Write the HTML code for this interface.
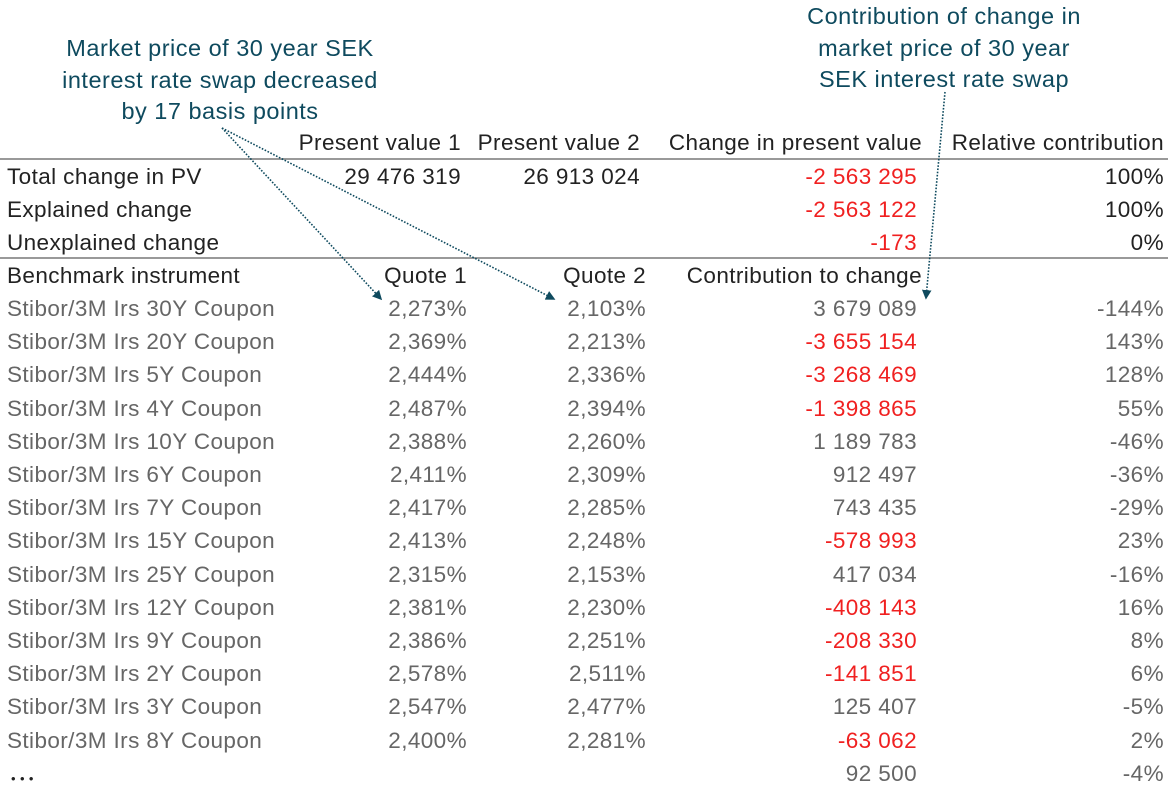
<!DOCTYPE html>
<html><head><meta charset="utf-8"><style>
body{margin:0;width:1172px;height:796px;background:#fff;position:relative;overflow:hidden;font-family:"Liberation Sans",sans-serif;}
.t{position:absolute;font-size:22.5px;letter-spacing:0.4px;line-height:28px;white-space:nowrap;}
.r{text-align:right;}
.hd{color:#222}.gr{color:#666}.red{color:#f02020}
.ann{position:absolute;color:#0e4a5e;font-size:23.5px;letter-spacing:0.5px;line-height:31.5px;text-align:center;white-space:nowrap;}
svg{position:absolute;left:0;top:0}
</style></head><body>
<div class="ann" style="left:20px;top:33px;width:400px">Market price of 30 year SEK<br>interest rate swap decreased<br>by 17 basis points</div>
<div class="ann" style="left:744px;top:1px;width:400px">Contribution of change in<br>market price of 30 year<br>SEK interest rate swap</div>
<svg width="1172" height="796">
<line x1="0" y1="159" x2="1168" y2="159" stroke="#999" stroke-width="2"/>
<line x1="0" y1="258" x2="1168" y2="258" stroke="#999" stroke-width="2"/>
<defs><marker id="ah" markerWidth="6" markerHeight="6" refX="5" refY="3" orient="auto"><path d="M0,0 L6,3 L0,6 z" fill="#0e4a5e"/></marker></defs>
<line x1="222" y1="128" x2="381" y2="299" stroke="#0e4a5e" stroke-width="1.6" stroke-dasharray="1.6 1.6" marker-end="url(#ah)"/>
<line x1="222" y1="128" x2="554" y2="299" stroke="#0e4a5e" stroke-width="1.6" stroke-dasharray="1.6 1.6" marker-end="url(#ah)"/>
<line x1="945" y1="92" x2="926" y2="298" stroke="#0e4a5e" stroke-width="1.6" stroke-dasharray="1.6 1.6" marker-end="url(#ah)"/>
</svg>
<div id="tbl"></div>
<script>
const instruments=["Stibor/3M Irs 30Y Coupon","Stibor/3M Irs 20Y Coupon","Stibor/3M Irs 5Y Coupon","Stibor/3M Irs 4Y Coupon","Stibor/3M Irs 10Y Coupon","Stibor/3M Irs 6Y Coupon","Stibor/3M Irs 7Y Coupon","Stibor/3M Irs 15Y Coupon","Stibor/3M Irs 25Y Coupon","Stibor/3M Irs 12Y Coupon","Stibor/3M Irs 9Y Coupon","Stibor/3M Irs 2Y Coupon","Stibor/3M Irs 3Y Coupon","Stibor/3M Irs 8Y Coupon","\u2022 \u2022 \u2022"];
const quote1=["2,273%","2,369%","2,444%","2,487%","2,388%","2,411%","2,417%","2,413%","2,315%","2,381%","2,386%","2,578%","2,547%","2,400%",""];
const quote2=["2,103%","2,213%","2,336%","2,394%","2,260%","2,309%","2,285%","2,248%","2,153%","2,230%","2,251%","2,511%","2,477%","2,281%",""];
const contrib=[3679089,-3655154,-3268469,-1398865,1189783,912497,743435,-578993,417034,-408143,-208330,-141851,125407,-63062,92500];
const relative=["-144%","143%","128%","55%","-46%","-36%","-29%","23%","-16%","16%","8%","6%","-5%","2%","-4%"];
const sumLabels=["Total change in PV","Explained change","Unexplained change"];
const pv1=["29 476 319","",""];
const pv2=["26 913 024","",""];
const sumChange=[-2563295,-2563122,-173];
const sumRel=["100%","100%","0%"];
function fmt(v){const s=Math.abs(v).toString().replace(/\B(?=(\d{3})+(?!\d))/g," ");return (v<0?"-":"")+s;}
const T=document.getElementById('tbl');
function cell(txt,cls,cx,y,right,name){
 const d=document.createElement('div');
 d.className='t '+cls+(right?' r':'');
 d.textContent=txt;
 d.style.top=(y-13)+'px';
 if(right){d.style.right=(1172-cx)+'px';}else{d.style.left=cx+'px';}
 
 
 T.appendChild(d);
 return d;
}
const ROW=33.2;
cell("Present value 1","hd",461,142,1,"header-pv1");
cell("Present value 2","hd",640,142,1,"header-pv2");
cell("Change in present value","hd",922,142,1,"header-change");
cell("Relative contribution","hd",1164,142,1,"header-relative");
for(let i=0;i<3;i++){
 const y=176+i*ROW;
 cell(sumLabels[i],"hd",7,y,0,"summary-label");
 cell(pv1[i],"hd",461,y,1,"summary-pv1");
 cell(pv2[i],"hd",640,y,1,"summary-pv2");
 cell(fmt(sumChange[i]),sumChange[i]<0?"red":"hd",917,y,1,"summary-change");
 cell(sumRel[i],"hd",1164,y,1,"summary-relative");
}
cell("Benchmark instrument","hd",7,275,0,"header-instrument");
cell("Quote 1","hd",467,275,1,"header-quote1");
cell("Quote 2","hd",646,275,1,"header-quote2");
cell("Contribution to change","hd",922,275,1,"header-contribution");
for(let i=0;i<instruments.length;i++){
 const y=308+i*ROW;
 const last=i==instruments.length-1;
 const c=cell(instruments[i],last?"hd":"gr",last?11:7,y,0,"instrument-name");
 if(last){c.style.fontSize='13px';c.style.top=(y-8)+'px';}
 cell(quote1[i],"gr",467,y,1,"quote1-value");
 cell(quote2[i],"gr",646,y,1,"quote2-value");
 cell(fmt(contrib[i]),contrib[i]<0?"red":"gr",917,y,1,"contribution-value");
 cell(relative[i],"gr",1164,y,1,"relative-value");
}
</script>
</body></html>
